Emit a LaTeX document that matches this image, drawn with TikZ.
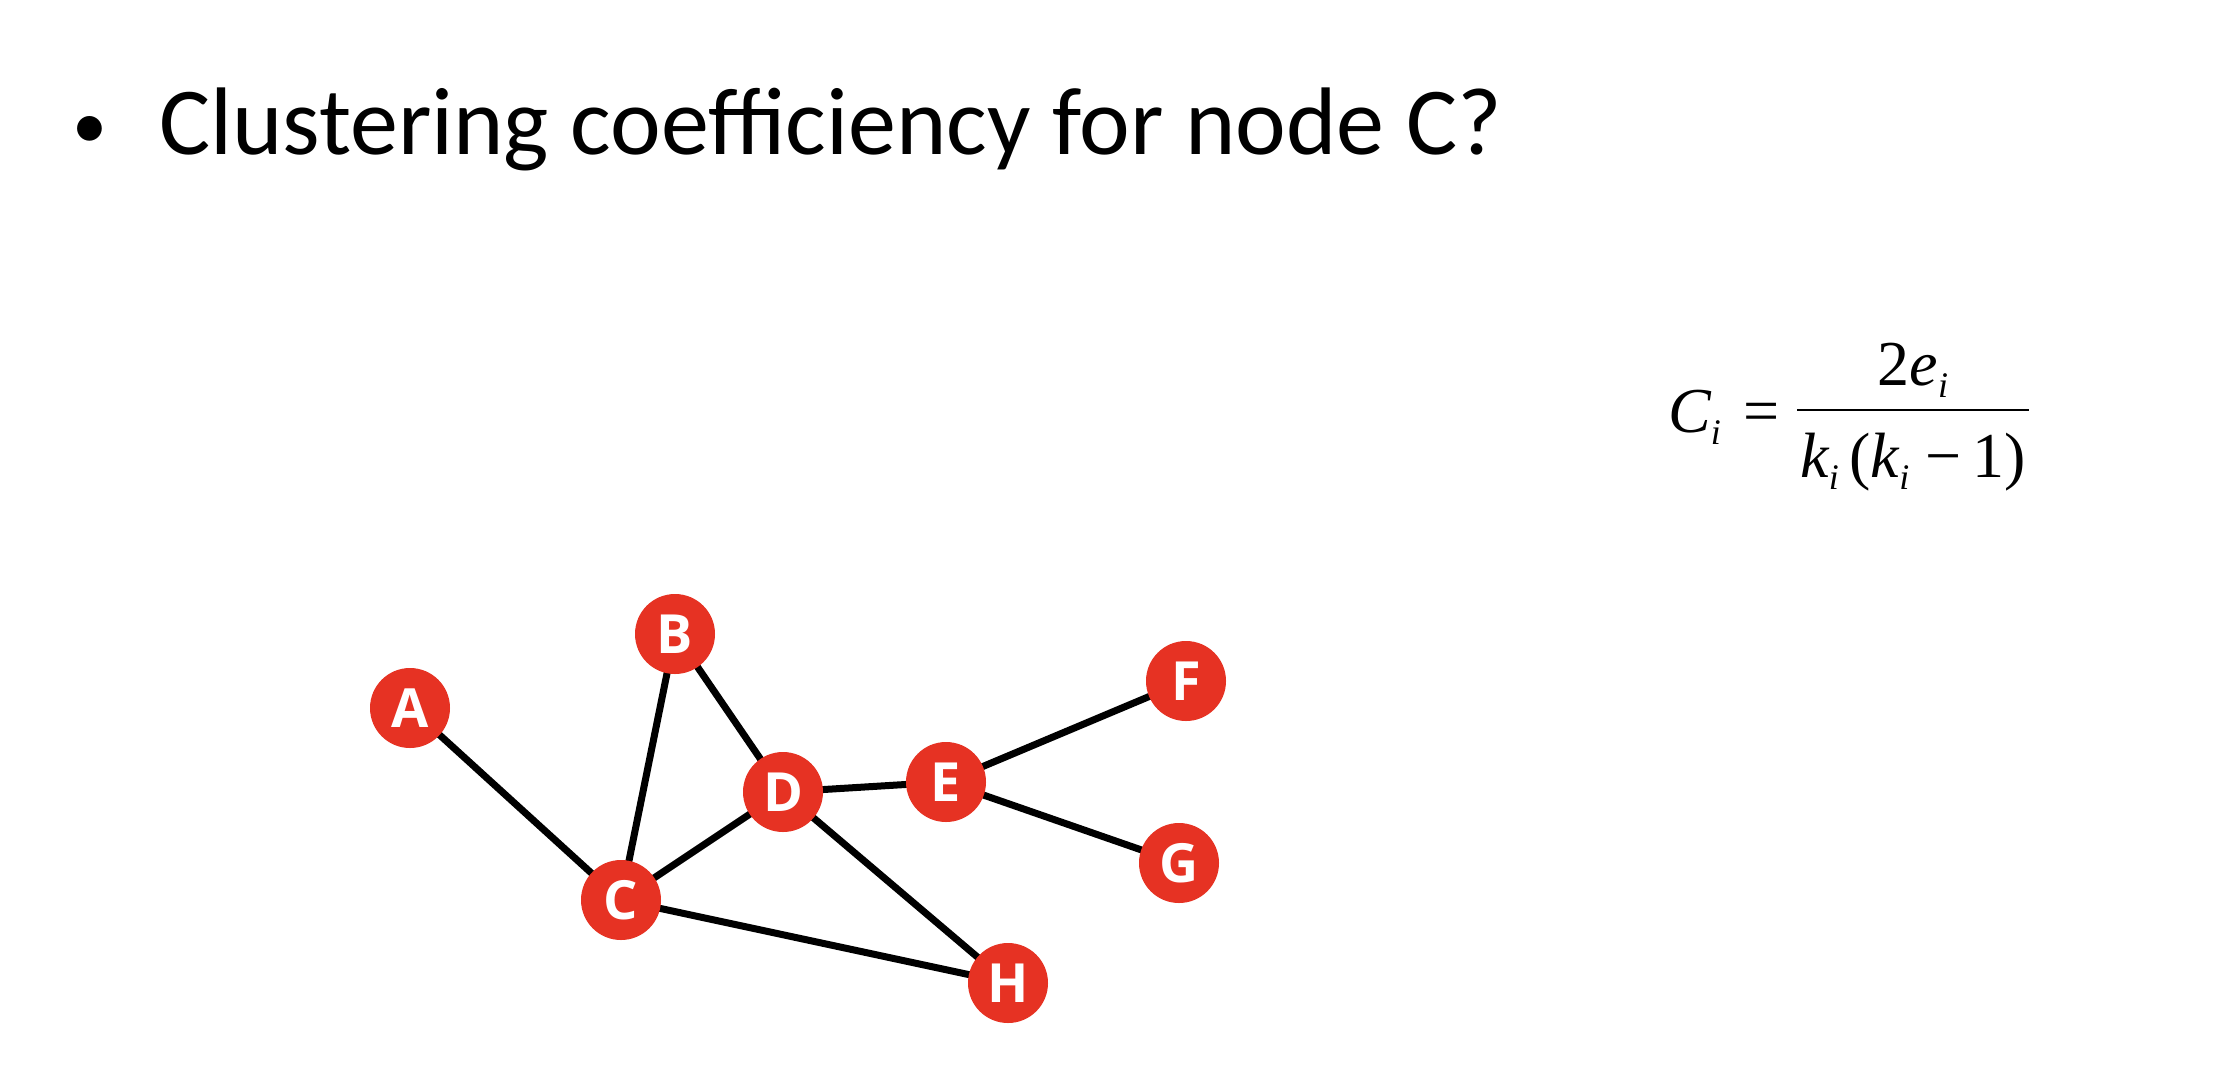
\documentclass[tikz,border=0pt]{standalone}
\usepackage{fontspec}
\usetikzlibrary{backgrounds}
\setmainfont{Carlito}
\newfontfamily\nodefont{Open Sans}
\newfontfamily\tnr{Liberation Serif}
\definecolor{nodered}{RGB}{230,50,35}
\begin{document}
\begin{tikzpicture}[x=1pt,y=-1pt,
  vtx/.style={circle,fill=nodered,minimum size=80pt,inner sep=0pt,text=white,font=\nodefont\bfseries\fontsize{54}{54}\selectfont},
  edge/.style={line width=7pt,black},
  fm/.style={font=\tnr\fontsize{64}{64}\selectfont,inner sep=0pt}]
\useasboundingbox (0,0) rectangle (2222,1080);
\node[anchor=base west,font=\fontsize{96}{96}\selectfont,inner sep=0pt] (title) at (72,154) {{\fontsize{70}{70}\selectfont\raisebox{6pt}{•}}\hspace{52pt}Clustering coefficiency for node C?};
\node[vtx] (A) at (410,708) {A};
\node[vtx] (B) at (675,634) {B};
\node[vtx] (C) at (621,900) {C};
\node[vtx] (D) at (783,792) {D};
\node[vtx] (E) at (946,782) {E};
\node[vtx] (F) at (1186,681) {F};
\node[vtx] (G) at (1179,863) {G};
\node[vtx] (H) at (1008,983) {H};
\begin{scope}[on background layer]
\fill[white] (0,0) rectangle (2222,1080);
\draw[edge] (A.center) -- (C.center);
\draw[edge] (B.center) -- (C.center);
\draw[edge] (B.center) -- (D.center);
\draw[edge] (C.center) -- (D.center);
\draw[edge] (C.center) -- (H.center);
\draw[edge] (D.center) -- (H.center);
\draw[edge] (D.center) -- (E.center);
\draw[edge] (E.center) -- (F.center);
\draw[edge] (E.center) -- (G.center);
\end{scope}
\node[fm,anchor=base west] (ci) at (1668,432) {\itshape C\raisebox{-12pt}{\fontsize{36}{36}\selectfont i}};
\node[fm,anchor=base] (eq) at (1762,432) {=};
\draw[line width=2.5pt] (1797,410) coordinate (b1) -- (2029,410) coordinate (b2);
\node[fm,anchor=base] (num) at (1913,385) {2\itshape e\raisebox{-12pt}{\fontsize{36}{36}\selectfont i}};
\node[fm,anchor=base] (den) at (1913,477) {\itshape k\raisebox{-12pt}{\fontsize{36}{36}\selectfont i}\upshape\,(\itshape k\raisebox{-12pt}{\fontsize{36}{36}\selectfont i}\upshape\ \char"2212\,1)};
\end{tikzpicture}
\end{document}
